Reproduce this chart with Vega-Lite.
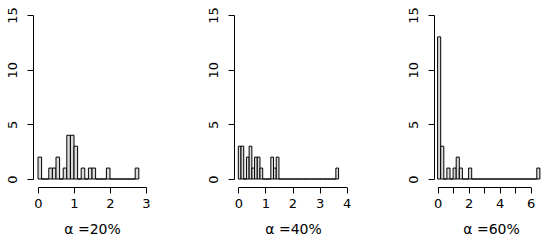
{
  "$schema": "https://vega.github.io/schema/vega-lite/v6.json",
  "padding": {"left": 6, "top": 6, "right": 0, "bottom": 0},
  "background": "white",
  "config": {
    "font": "DejaVu Sans",
    "view": {"stroke": null},
    "concat": {"spacing": 56},
    "axis": {
      "grid": false,
      "domainColor": "black",
      "tickColor": "black",
      "labelColor": "black",
      "titleColor": "black",
      "labelFont": "DejaVu Sans",
      "titleFont": "DejaVu Sans",
      "labelFontSize": 13,
      "titleFontSize": 14,
      "titleFontWeight": "normal",
      "tickSize": 6,
      "domainWidth": 1,
      "tickWidth": 1
    }
  },
  "datasets": {
    "a20": [
      {"x0": 0.0, "x1": 0.1, "n": 2}, {"x0": 0.1, "x1": 0.2, "n": 0}, {"x0": 0.2, "x1": 0.3, "n": 0},
      {"x0": 0.3, "x1": 0.4, "n": 1}, {"x0": 0.4, "x1": 0.5, "n": 1}, {"x0": 0.5, "x1": 0.6, "n": 2},
      {"x0": 0.6, "x1": 0.7, "n": 0}, {"x0": 0.7, "x1": 0.8, "n": 1}, {"x0": 0.8, "x1": 0.9, "n": 4},
      {"x0": 0.9, "x1": 1.0, "n": 4}, {"x0": 1.0, "x1": 1.1, "n": 3}, {"x0": 1.1, "x1": 1.2, "n": 0},
      {"x0": 1.2, "x1": 1.3, "n": 1}, {"x0": 1.3, "x1": 1.4, "n": 0}, {"x0": 1.4, "x1": 1.5, "n": 1},
      {"x0": 1.5, "x1": 1.6, "n": 1}, {"x0": 1.6, "x1": 1.7, "n": 0}, {"x0": 1.7, "x1": 1.8, "n": 0},
      {"x0": 1.8, "x1": 1.9, "n": 0}, {"x0": 1.9, "x1": 2.0, "n": 1}, {"x0": 2.0, "x1": 2.1, "n": 0},
      {"x0": 2.1, "x1": 2.2, "n": 0}, {"x0": 2.2, "x1": 2.3, "n": 0}, {"x0": 2.3, "x1": 2.4, "n": 0},
      {"x0": 2.4, "x1": 2.5, "n": 0}, {"x0": 2.5, "x1": 2.6, "n": 0}, {"x0": 2.6, "x1": 2.7, "n": 0},
      {"x0": 2.7, "x1": 2.8, "n": 1}
    ],
    "a40": [
      {"x0": 0.0, "x1": 0.1, "n": 3}, {"x0": 0.1, "x1": 0.2, "n": 3}, {"x0": 0.2, "x1": 0.3, "n": 0},
      {"x0": 0.3, "x1": 0.4, "n": 2}, {"x0": 0.4, "x1": 0.5, "n": 3}, {"x0": 0.5, "x1": 0.6, "n": 1},
      {"x0": 0.6, "x1": 0.7, "n": 2}, {"x0": 0.7, "x1": 0.8, "n": 2}, {"x0": 0.8, "x1": 0.9, "n": 1},
      {"x0": 0.9, "x1": 1.0, "n": 0}, {"x0": 1.0, "x1": 1.1, "n": 0}, {"x0": 1.1, "x1": 1.2, "n": 0},
      {"x0": 1.2, "x1": 1.3, "n": 2}, {"x0": 1.3, "x1": 1.4, "n": 1}, {"x0": 1.4, "x1": 1.5, "n": 2},
      {"x0": 1.5, "x1": 1.6, "n": 0}, {"x0": 1.6, "x1": 1.7, "n": 0}, {"x0": 1.7, "x1": 1.8, "n": 0},
      {"x0": 1.8, "x1": 1.9, "n": 0}, {"x0": 1.9, "x1": 2.0, "n": 0}, {"x0": 2.0, "x1": 2.1, "n": 0},
      {"x0": 2.1, "x1": 2.2, "n": 0}, {"x0": 2.2, "x1": 2.3, "n": 0}, {"x0": 2.3, "x1": 2.4, "n": 0},
      {"x0": 2.4, "x1": 2.5, "n": 0}, {"x0": 2.5, "x1": 2.6, "n": 0}, {"x0": 2.6, "x1": 2.7, "n": 0},
      {"x0": 2.7, "x1": 2.8, "n": 0}, {"x0": 2.8, "x1": 2.9, "n": 0}, {"x0": 2.9, "x1": 3.0, "n": 0},
      {"x0": 3.0, "x1": 3.1, "n": 0}, {"x0": 3.1, "x1": 3.2, "n": 0}, {"x0": 3.2, "x1": 3.3, "n": 0},
      {"x0": 3.3, "x1": 3.4, "n": 0}, {"x0": 3.4, "x1": 3.5, "n": 0}, {"x0": 3.5, "x1": 3.6, "n": 0},
      {"x0": 3.6, "x1": 3.7, "n": 1}
    ],
    "a60": [
      {"x0": 0.0, "x1": 0.2, "n": 13}, {"x0": 0.2, "x1": 0.4, "n": 3}, {"x0": 0.4, "x1": 0.6, "n": 0},
      {"x0": 0.6, "x1": 0.8, "n": 1}, {"x0": 0.8, "x1": 1.0, "n": 0}, {"x0": 1.0, "x1": 1.2, "n": 1},
      {"x0": 1.2, "x1": 1.4, "n": 2}, {"x0": 1.4, "x1": 1.6, "n": 1}, {"x0": 1.6, "x1": 1.8, "n": 0},
      {"x0": 1.8, "x1": 2.0, "n": 0}, {"x0": 2.0, "x1": 2.2, "n": 1}, {"x0": 2.2, "x1": 2.4, "n": 0},
      {"x0": 2.4, "x1": 2.6, "n": 0}, {"x0": 2.6, "x1": 2.8, "n": 0}, {"x0": 2.8, "x1": 3.0, "n": 0},
      {"x0": 3.0, "x1": 3.2, "n": 0}, {"x0": 3.2, "x1": 3.4, "n": 0}, {"x0": 3.4, "x1": 3.6, "n": 0},
      {"x0": 3.6, "x1": 3.8, "n": 0}, {"x0": 3.8, "x1": 4.0, "n": 0}, {"x0": 4.0, "x1": 4.2, "n": 0},
      {"x0": 4.2, "x1": 4.4, "n": 0}, {"x0": 4.4, "x1": 4.6, "n": 0}, {"x0": 4.6, "x1": 4.8, "n": 0},
      {"x0": 4.8, "x1": 5.0, "n": 0}, {"x0": 5.0, "x1": 5.2, "n": 0}, {"x0": 5.2, "x1": 5.4, "n": 0},
      {"x0": 5.4, "x1": 5.6, "n": 0}, {"x0": 5.6, "x1": 5.8, "n": 0}, {"x0": 5.8, "x1": 6.0, "n": 0},
      {"x0": 6.0, "x1": 6.2, "n": 0}, {"x0": 6.2, "x1": 6.4, "n": 0}, {"x0": 6.4, "x1": 6.6, "n": 1}
    ]
  },
  "hconcat": [
    {
      "width": 116, "height": 164,
      "data": {"name": "a20"},
      "mark": {"type": "rect", "fill": "#dcdcdc", "stroke": "black", "strokeWidth": 1, "clip": false},
      "encoding": {
        "x": {"field": "x0", "type": "quantitative",
          "scale": {"domain": [0, 3], "range": [5, 113], "nice": false, "zero": false},
          "axis": {"values": [0, 1, 2, 3], "offset": 8, "title": "α =20%", "labelFlush": false, "labelPadding": 4, "titlePadding": 12, "titleX": 59}},
        "x2": {"field": "x1"},
        "y": {"field": "n", "type": "quantitative",
          "scale": {"domain": [0, 15], "nice": false},
          "axis": {"values": [0, 5, 10, 15], "labelAngle": -90, "labelPadding": 8, "title": null, "labelFlush": false}},
        "y2": {"datum": 0}
      }
    },
    {
      "width": 116, "height": 164,
      "data": {"name": "a40"},
      "mark": {"type": "rect", "fill": "#dcdcdc", "stroke": "black", "strokeWidth": 1, "clip": false},
      "encoding": {
        "x": {"field": "x0", "type": "quantitative",
          "scale": {"domain": [0, 4], "range": [4.3, 112.7], "nice": false, "zero": false},
          "axis": {"values": [0, 1, 2, 3, 4], "offset": 8, "title": "α =40%", "labelFlush": false, "labelPadding": 4, "titlePadding": 12, "titleX": 59}},
        "x2": {"field": "x1"},
        "y": {"field": "n", "type": "quantitative",
          "scale": {"domain": [0, 15], "nice": false},
          "axis": {"values": [0, 5, 10, 15], "labelAngle": -90, "labelPadding": 8, "title": null, "labelFlush": false}},
        "y2": {"datum": 0}
      }
    },
    {
      "width": 110, "height": 164,
      "data": {"name": "a60"},
      "mark": {"type": "rect", "fill": "#dcdcdc", "stroke": "black", "strokeWidth": 1, "clip": false},
      "encoding": {
        "x": {"field": "x0", "type": "quantitative",
          "scale": {"domain": [0, 6], "range": [3.6, 96.6], "nice": false, "zero": false},
          "axis": {"values": [0, 1, 2, 3, 4, 5, 6], "labelExpr": "datum.value % 2 == 0 ? datum.label : ''", "offset": 8, "title": "α =60%", "labelFlush": false, "labelPadding": 4, "titlePadding": 12, "titleX": 57}},
        "x2": {"field": "x1"},
        "y": {"field": "n", "type": "quantitative",
          "scale": {"domain": [0, 15], "nice": false},
          "axis": {"values": [0, 5, 10, 15], "labelAngle": -90, "labelPadding": 8, "title": null, "labelFlush": false}},
        "y2": {"datum": 0}
      }
    }
  ]
}
